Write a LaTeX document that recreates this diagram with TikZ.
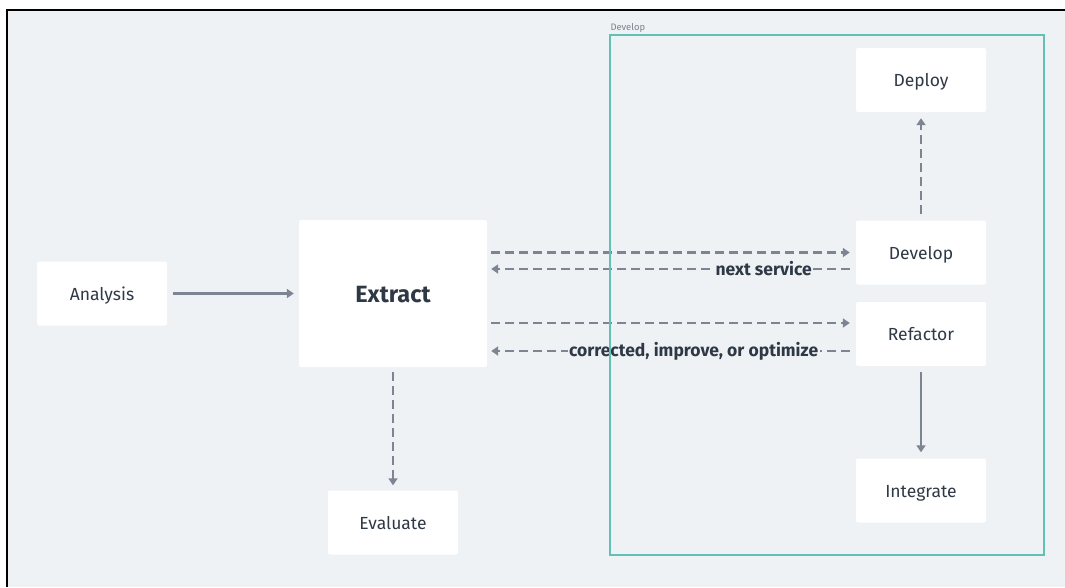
\documentclass[tikz,border=0pt]{standalone}
\usepackage{fontspec}
\setmainfont{Fira Sans}
\usetikzlibrary{arrows.meta,calc}
\definecolor{canvas}{HTML}{EEF2F5}
\definecolor{ink}{HTML}{2F3946}
\definecolor{wire}{HTML}{7D8593}
\definecolor{frame}{HTML}{62C0B4}
\definecolor{caption}{HTML}{7A8290}
\tikzset{
  card/.style={fill=white, rounded corners=2pt, minimum width=130pt, minimum height=64pt,
    text=ink, font=\fontsize{17.5}{20}\selectfont, inner sep=0pt,
    text height=14pt, text depth=1pt},
  link/.style={draw=wire, line width=2.4pt, -{Triangle[length=7pt,width=9pt]}},
  dashlink/.style={link, dash pattern=on 9pt off 5pt},
  tag/.style={fill=canvas, text=ink, inner sep=1.5pt,
    font=\bfseries\fontsize{17.5}{20}\selectfont}
}
\begin{document}
\begin{tikzpicture}[x=1pt,y=-1pt]
\useasboundingbox (0,0) rectangle (1065,587);
\fill[white] (0,0) rectangle (1065,587);
\fill[canvas] (7,10) rectangle (1065,587);
\draw[black, line width=2pt] (7,587) -- (7,10) -- (1065,10);

% process cards
\node[card] (analysis) at (102,293.5) {Analysis};
\node[card, minimum width=188pt, minimum height=147pt, text height=18pt,
      font=\bfseries\fontsize{23.5}{26}\selectfont] (extract) at (393,293.5) {Extract};
\node[card] (evaluate) at (393,522.5) {Evaluate};
\node[card] (deploy) at (921,80) {Deploy};
\node[card] (develop) at (921,252.5) {Develop};
\node[card] (refactor) at (921,334) {Refactor};
\node[card] (integrate) at (921,490.5) {Integrate};

% connectors
\draw[link, shorten <=6pt, shorten >=5pt] (analysis) -- (extract);
\draw[dashlink, shorten <=4pt, shorten >=6pt] (extract.east |- develop.west) -- (develop.west);
\coordinate (back1) at ($(develop.west)+(0,16.5)$);
\draw[dashlink, shorten <=6pt, shorten >=4pt] (back1) -- (extract.east |- back1)
  node[tag, pos=0.25] {next service};
\coordinate (fwd2) at ($(refactor.west)+(0,-11)$);
\draw[dashlink, shorten <=4pt, shorten >=6pt] (extract.east |- fwd2) -- (fwd2);
\coordinate (back2) at ($(refactor.west)+(0,17)$);
\draw[dashlink, shorten <=6pt, shorten >=4pt] (back2) -- (extract.east |- back2)
  node[tag, pos=0.44] {corrected, improve, or optimize};
\draw[dashlink, shorten <=6pt, shorten >=6pt] (develop.north) -- (deploy.south);
\draw[link, shorten <=6pt, shorten >=6pt] (refactor.south) -- (integrate.north);
\draw[dashlink, shorten <=5pt, shorten >=5pt] (extract.south) -- (evaluate.north);

% group frame
\node[draw=frame, line width=1.4pt, minimum width=434pt, minimum height=520pt, inner sep=0pt]
  (group) at (827,295) {};
\node[anchor=south west, text=caption, inner sep=0pt, font=\fontsize{9.4}{11}\selectfont]
  at ($(group.north west)+(1,-2)$) {Develop};
\end{tikzpicture}
\end{document}
